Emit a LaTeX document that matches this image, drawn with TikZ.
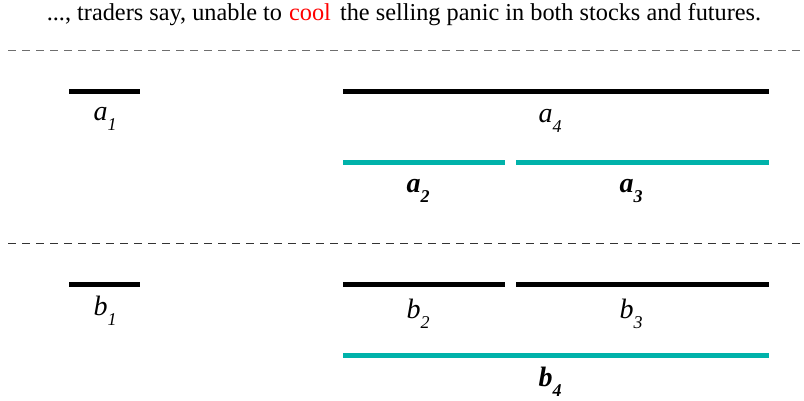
\documentclass[tikz,border=0pt]{standalone}
\usepackage{fontspec}
\setmainfont{Liberation Serif}
\definecolor{tealbar}{RGB}{0,178,170}
\definecolor{dashgray}{RGB}{110,110,110}
\newcommand{\lab}[2]{\textit{#1}\raisebox{-0.35em}{\fontsize{18}{18}\selectfont\textit{#2}}}
\begin{document}
\begin{tikzpicture}[x=1pt,y=-1pt,
  bar/.style={line width=5pt,black},
  tbar/.style={line width=5pt,tealbar},
  sep/.style={dashed,dash pattern=on 8pt off 6pt,line width=1pt},
  lbl/.style={font=\fontsize{28}{28}\selectfont,inner sep=0pt},
  blbl/.style={font=\fontsize{28}{28}\selectfont\bfseries,inner sep=0pt}]
\useasboundingbox (0,0) rectangle (804,400);
\node[font=\fontsize{24.3}{24.3}\selectfont,inner sep=0pt] (sent) at (404,15)
  {..., traders say, unable to \kern1pt\textcolor{red}{cool}\kern3pt{} the selling panic in both stocks and futures.};
\coordinate (d1l) at (8,50); \coordinate (d1r) at (800,50);
\coordinate (d2l) at (8,243); \coordinate (d2r) at (800,243);
\draw[sep,dashgray] (d1l) -- (d1r);
\draw[sep,black!80] (d2l) -- (d2r);
% top group
\coordinate (a1l) at (69,91); \coordinate (a1r) at (140,91);
\coordinate (a4l) at (343,91); \coordinate (a4r) at (769,91);
\coordinate (a2l) at (343,162); \coordinate (a2r) at (505,162);
\coordinate (a3l) at (516,162); \coordinate (a3r) at (769,162);
\draw[bar] (a1l) -- (a1r);
\draw[bar] (a4l) -- (a4r);
\draw[tbar] (a2l) -- (a2r);
\draw[tbar] (a3l) -- (a3r);
\node[lbl] (la1) at (105,119) {\lab{a}{1}};
\node[lbl] (la4) at (550,121) {\lab{a}{4}};
\node[blbl] (la2) at (418,191) {\lab{a}{2}};
\node[blbl] (la3) at (631,191) {\lab{a}{3}};
% bottom group
\coordinate (b1l) at (69,284); \coordinate (b1r) at (140,284);
\coordinate (b2l) at (343,284); \coordinate (b2r) at (505,284);
\coordinate (b3l) at (516,284); \coordinate (b3r) at (769,284);
\coordinate (b4l) at (343,355); \coordinate (b4r) at (769,355);
\draw[bar] (b1l) -- (b1r);
\draw[bar] (b2l) -- (b2r);
\draw[bar] (b3l) -- (b3r);
\draw[tbar] (b4l) -- (b4r);
\node[lbl] (lb1) at (105,311) {\lab{b}{1}};
\node[lbl] (lb2) at (418,314) {\lab{b}{2}};
\node[lbl] (lb3) at (631,314) {\lab{b}{3}};
\node[blbl] (lb4) at (550,382) {\lab{b}{4}};
\end{tikzpicture}
\end{document}
